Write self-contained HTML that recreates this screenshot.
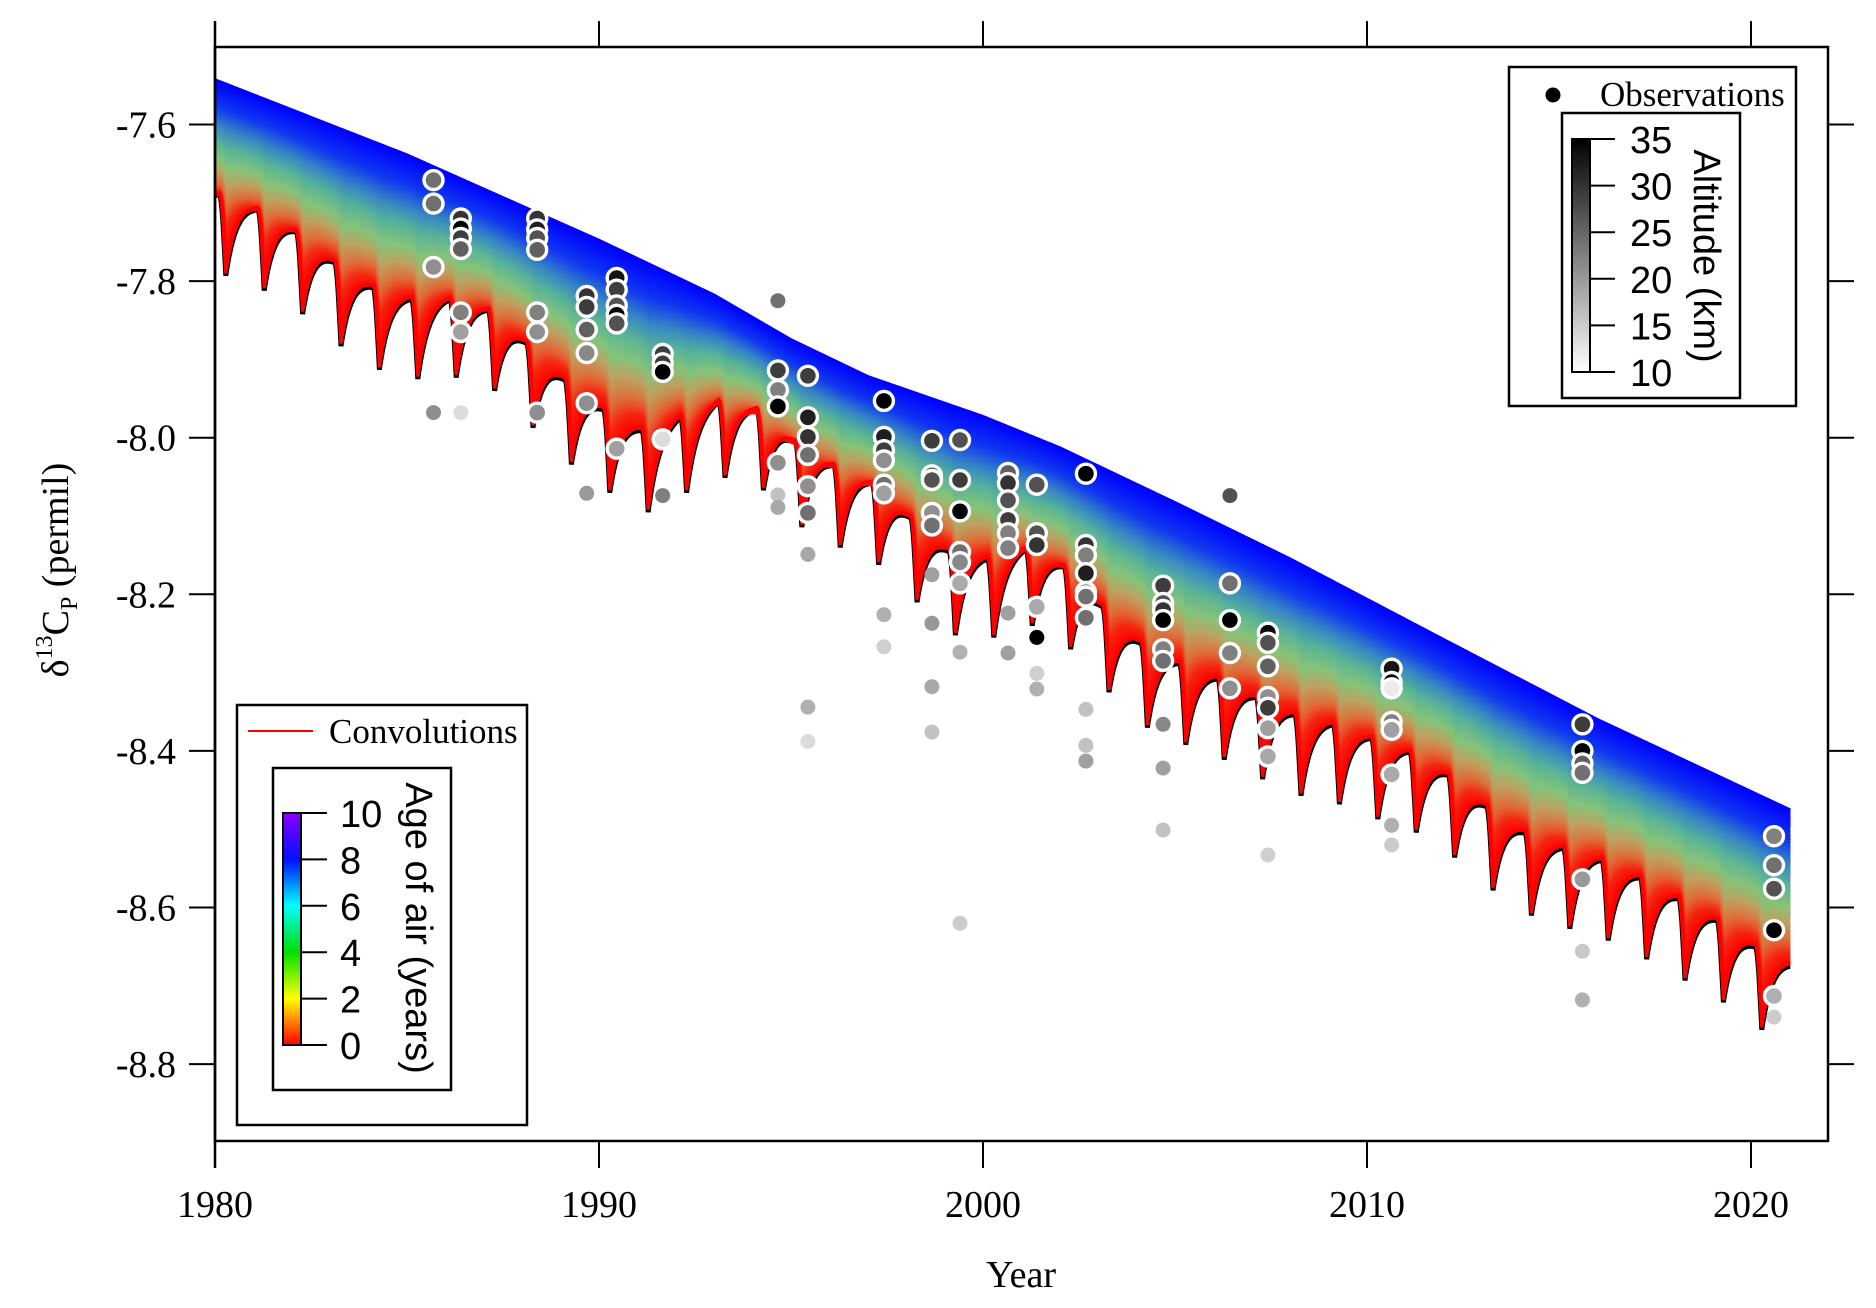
<!DOCTYPE html>
<html><head><meta charset="utf-8">
<style>
html,body{margin:0;padding:0;background:#fff;}
svg{display:block;}
.tm{font-family:"Liberation Serif",serif;}
.ss{font-family:"Liberation Sans",sans-serif;}
</style></head>
<body>
<svg id="chart" width="1876" height="1308" viewBox="0 0 1876 1308" xmlns="http://www.w3.org/2000/svg">
<defs>
<clipPath id="plotclip"><rect x="215" y="47" width="1613" height="1094"/></clipPath>
<linearGradient id="altgrad" x1="0" y1="0" x2="0" y2="1">
<stop offset="0" stop-color="#000"/><stop offset="1" stop-color="#fff"/></linearGradient>
<linearGradient id="agegrad" x1="0" y1="0" x2="0" y2="1">
<stop offset="0" stop-color="#8a00ff"/><stop offset="0.2" stop-color="#0010ff"/><stop offset="0.4" stop-color="#00ffff"/><stop offset="0.6" stop-color="#00e000"/><stop offset="0.8" stop-color="#ffff00"/><stop offset="0.9" stop-color="#ff8000"/><stop offset="1" stop-color="#ff0000"/></linearGradient>
</defs>
<g id="band" clip-path="url(#plotclip)"></g>
<g id="obs" clip-path="url(#plotclip)"></g>
<g id="axes"></g>

<g>
<rect x="1509" y="67" width="287" height="339" fill="#fff" stroke="#000" stroke-width="2.5"/>
<circle cx="1553" cy="95" r="7.5" fill="#000"/>
<text class="tm" x="1600" y="106" font-size="35">Observations</text>
<rect x="1562" y="113" width="178" height="285" fill="none" stroke="#000" stroke-width="2.5"/>
<rect x="1572" y="139" width="18" height="233" fill="url(#altgrad)" stroke="#000" stroke-width="2"/>
<g id="altticks"></g>
<text class="ss" font-size="38" transform="translate(1694,256) rotate(90)" text-anchor="middle">Altitude (km)</text>
</g>

<g>
<rect x="237" y="705" width="290" height="420" fill="#fff" stroke="#000" stroke-width="2.5"/>
<line x1="248" y1="731" x2="313" y2="731" stroke="#ff0000" stroke-width="2"/>
<text class="tm" x="329" y="743" font-size="35">Convolutions</text>
<rect x="273" y="768" width="178" height="322" fill="none" stroke="#000" stroke-width="2.5"/>
<rect x="283" y="813" width="18" height="232" fill="url(#agegrad)" stroke="#000" stroke-width="2"/>
<g id="ageticks"></g>
<text class="ss" font-size="38" transform="translate(406,928) rotate(90)" text-anchor="middle">Age of air (years)</text>
</g>

<text class="tm" x="1021" y="1287" font-size="38" text-anchor="middle">Year</text>
<text class="tm" font-size="38" text-anchor="middle" transform="translate(68,570) rotate(-90)">δ<tspan font-size="24" dy="-16">13</tspan><tspan dy="16">C</tspan><tspan font-size="24" dy="9">P</tspan><tspan dy="-9"> (permil)</tspan></text>
</svg>
<script>
// ---- data ----
const xTicks = [1980, 1990, 2000, 2010, 2020];
const yTicks = [-7.6, -7.8, -8.0, -8.2, -8.4, -8.6, -8.8];
const yTickLabels = ["-7.6", "-7.8", "-8.0", "-8.2", "-8.4", "-8.6", "-8.8"];
const altTicks = [35, 30, 25, 20, 15, 10];
const ageTicks = [10, 8, 6, 4, 2, 0];
const upperYears = [1980, 1985, 1990, 1993, 1995, 1997, 2000, 2002, 2005, 2008, 2012, 2016, 2021];
const upperVals = [-7.543, -7.639, -7.748, -7.818, -7.875, -7.922, -7.973, -8.013, -8.083, -8.155, -8.258, -8.36, -8.475];
const troughYears = [1979.28,1980.28,1981.28,1982.28,1983.28,1984.28,1985.28,1986.28,1987.28,1988.28,1989.28,1990.28,1991.28,1992.28,1993.28,1994.28,1995.28,1996.28,1997.28,1998.28,1999.28,2000.28,2001.28,2002.28,2003.28,2004.28,2005.28,2006.28,2007.28,2008.28,2009.28,2010.28,2011.28,2012.28,2013.28,2014.28,2015.28,2016.28,2017.28,2018.28,2019.28,2020.28,2021.28];
const troughVals = [-7.77,-7.79,-7.809,-7.839,-7.88,-7.91,-7.922,-7.92,-7.937,-7.984,-8.031,-8.067,-8.092,-8.067,-8.048,-8.064,-8.111,-8.137,-8.159,-8.207,-8.249,-8.252,-8.237,-8.267,-8.322,-8.367,-8.389,-8.408,-8.433,-8.454,-8.465,-8.484,-8.501,-8.533,-8.575,-8.607,-8.624,-8.639,-8.663,-8.690,-8.718,-8.753,-8.775];
const seasonalAmp = [0.1];
const obsYear = [1985.69,1985.69,1985.69,1985.69,
1986.4,1986.4,1986.4,1986.4,1986.4,1986.4,1986.4,
1988.39,1988.39,1988.39,1988.39,1988.39,1988.39,1988.39,
1989.68,1989.68,1989.68,1989.68,1989.68,1989.68,
1990.46,1990.46,1990.46,1990.46,1990.46,1990.46,
1991.66,1991.66,1991.66,1991.66,1991.66,
1994.66,1994.66,1994.66,1994.66,1994.66,1994.66,1994.66,
1995.44,1995.44,1995.44,1995.44,1995.44,1995.44,1995.44,1995.44,1995.44,
1997.42,1997.42,1997.42,1997.42,1997.42,1997.42,1997.42,1997.42,
1998.67,1998.67,1998.67,1998.67,1998.67,1998.67,1998.67,1998.67,1998.67,
1999.4,1999.4,1999.4,1999.4,1999.4,1999.4,1999.4,1999.4,
2000.65,2000.65,2000.65,2000.65,2000.65,2000.65,2000.65,2000.65,
2001.4,2001.4,2001.4,2001.4,2001.4,2001.4,2001.4,
2002.68,2002.68,2002.68,2002.68,2002.68,2002.68,2002.68,2002.68,2002.68,2002.68,
2004.69,2004.69,2004.69,2004.69,2004.69,2004.69,2004.69,2004.69,2004.69,
2006.43,2006.43,2006.43,2006.43,2006.43,
2007.42,2007.42,2007.42,2007.42,2007.42,2007.42,2007.42,2007.42,
2010.64,2010.64,2010.64,2010.64,2010.64,2010.64,2010.64,2010.64,
2015.61,2015.61,2015.61,2015.61,2015.61,2015.61,2015.61,
2020.6,2020.6,2020.6,2020.6,2020.6,2020.6];
const obsValue = [-7.671,-7.701,-7.782,-7.968,
-7.720,-7.733,-7.745,-7.759,-7.840,-7.865,-7.968,
-7.720,-7.734,-7.745,-7.760,-7.840,-7.865,-7.968,
-7.819,-7.833,-7.862,-7.892,-7.956,-8.071,
-7.796,-7.811,-7.831,-7.843,-7.854,-8.014,
-7.893,-7.905,-7.916,-8.002,-8.074,
-7.825,-7.914,-7.939,-7.960,-8.032,-8.073,-8.089,
-7.921,-7.974,-7.999,-8.022,-8.062,-8.096,-8.149,-8.344,-8.388,
-7.953,-7.999,-8.016,-8.029,-8.060,-8.071,-8.226,-8.267,
-8.004,-8.048,-8.054,-8.096,-8.112,-8.175,-8.237,-8.318,-8.376,
-8.003,-8.054,-8.094,-8.146,-8.159,-8.186,-8.274,-8.620,
-8.045,-8.058,-8.080,-8.105,-8.122,-8.141,-8.224,-8.275,
-8.060,-8.122,-8.137,-8.216,-8.255,-8.301,-8.321,
-8.046,-8.137,-8.150,-8.173,-8.197,-8.203,-8.230,-8.347,-8.393,-8.413,
-8.189,-8.211,-8.220,-8.233,-8.270,-8.285,-8.366,-8.422,-8.501,
-8.074,-8.186,-8.233,-8.275,-8.320,
-8.249,-8.262,-8.292,-8.331,-8.345,-8.371,-8.407,-8.533,
-8.295,-8.312,-8.320,-8.363,-8.373,-8.430,-8.495,-8.520,
-8.366,-8.400,-8.416,-8.428,-8.564,-8.656,-8.718,
-8.509,-8.546,-8.576,-8.629,-8.713,-8.740];
const obsAlt = [24,24,21,21,
30,35,29,25.6,22.5,19.3,13.4,
30,32,27,25.6,22.5,21,21,
30,29,25.6,21.7,21,20,
33,29,27,35,27,19.3,
29,29,35,13.4,22.5,
24,29,22.5,35,21,16,18.5,
29,32,30,24,21,24,18.5,17.7,13.4,
35,32,29,21,24,19.3,17.7,14.6,
29,27,27,21,24,19.3,20,18.5,16,
27,29,35,24,21.7,18.3,17.7,15,
25.6,30,27,29,22.5,22.5,19.3,19.3,
27,27,30,18.3,35,14.6,17.7,
35,30,22.5,32,21,24,24,16,16,19.3,
29,27,30,35,22.5,24,21.7,19.3,16,
27,24,35,22.5,21,
34,27,25.6,21,29,19.3,18.5,14.6,
33,35,12,22.5,19.3,18.3,17.7,15,
29,35,25.6,24,20,15.4,17.7,
22.5,24,27,35,17.7,15];
const obsRing = [1,1,1,0,
1,1,1,1,1,1,0,
1,1,1,1,1,1,1,
1,1,1,1,1,0,
1,1,1,1,1,1,
1,1,1,1,0,
0,1,1,1,1,0,0,
1,1,1,1,1,1,0,0,0,
1,1,1,1,1,1,0,0,
1,1,1,1,1,0,0,0,0,
1,1,1,1,1,1,0,0,
1,1,1,1,1,1,0,0,
1,1,1,1,0,0,0,
1,1,1,1,1,1,1,0,0,0,
1,1,1,1,1,1,0,0,0,
0,1,1,1,1,
1,1,1,1,1,1,1,0,
1,1,1,1,1,1,0,0,
1,1,1,1,1,0,0,
1,1,1,1,1,0];

const X = y => 215 + (y - 1980) * 38.4;
const Y = v => 124.5 + (-7.6 - v) * 783;
const NS = "http://www.w3.org/2000/svg";
function mk(tag, attrs, parent){const e=document.createElementNS(NS,tag);for(const k in attrs)e.setAttribute(k,attrs[k]);parent.appendChild(e);return e;}
function interp(xs, vs, t){
  if(t<=xs[0]) return vs[0]+(vs[1]-vs[0])*(t-xs[0])/(xs[1]-xs[0]);
  for(let i=0;i<xs.length-1;i++){ if(t<=xs[i+1]) return vs[i]+(vs[i+1]-vs[i])*(t-xs[i])/(xs[i+1]-xs[i]); }
  const n=xs.length-1; return vs[n]+(vs[n]-vs[n-1])*(t-xs[n])/(xs[n]-xs[n-1]);
}
function seasonal(t){
  let k=0; while(k<troughYears.length-2 && t>=troughYears[k+1]) k++;
  const p=(t-troughYears[k])/(troughYears[k+1]-troughYears[k]);
  const base=troughVals[k]+(troughVals[k+1]-troughVals[k])*p;
  let s;
  const P=0.84;
  if(p<P) s=(1-Math.exp(-p/0.3))/(1-Math.exp(-P/0.3));
  else { const q=(p-P)/(1-P); s=Math.cos(q*Math.PI/2); }
  return {base, s};
}
const stops=[[0,[255,0,0]],[0.2,[245,35,15]],[0.32,[225,105,55]],[0.44,[190,160,95]],[0.54,[135,195,120]],[0.65,[90,180,150]],[0.75,[55,135,195]],[0.86,[15,55,240]],[1,[0,0,255]]];
function col(f){for(let i=0;i<stops.length-1;i++){if(f<=stops[i+1][0]){const a=stops[i],b=stops[i+1],u=(f-a[0])/(b[0]-a[0]);return 'rgb('+a[1].map((c,j)=>Math.round(c+(b[1][j]-c)*u)).join(',')+')';}}return 'rgb(0,0,255)';}
const band=document.getElementById('band');
const tEnd=2021.02, dt=0.02;
const ts=[]; for(let t=1980;t<=tEnd+1e-9;t+=dt) ts.push(t);
const pre=ts.map(t=>{const s=seasonal(t);return {T:s.base,s:s.s,U:interp(upperYears,upperVals,t)};});
function curvePath(f){
  let d='';
  pre.forEach((q,i)=>{
    const v=q.T+(q.U-q.T)*f+seasonalAmp[0]*q.s*Math.pow(1-f,3);
    d+=(i?'L':'M')+X(ts[i]).toFixed(1)+' '+Y(v).toFixed(1);
  });
  return d;
}
const blk=mk('path',{d:curvePath(0),fill:'none',stroke:'#000','stroke-width':5,transform:'translate(0,2.5)'},band);


const N=120;
for(let i=N;i>=0;i--){
  const f=i/N;
  const p=mk('path',{d:curvePath(f),fill:'none',stroke:col(f),'stroke-width':3.2},band);
  
  
}
const obs=document.getElementById('obs');
function gray(a){const g=Math.round(255*(1-(Math.min(35,Math.max(10,a))-10)/25));return 'rgb('+g+','+g+','+g+')';}
[0,1].forEach(pass=>{
  for(let i=0;i<obsYear.length;i++){
    if(obsRing[i]!==pass) continue;
    const c=mk('circle',{cx:X(obsYear[i]).toFixed(1),cy:Y(obsValue[i]).toFixed(1),r:pass?9.5:7.5,fill:gray(obsAlt[i])},obs);
    if(pass){c.setAttribute('stroke','#fff');c.setAttribute('stroke-width','3.4');}
    
    
  }
});
const ax=document.getElementById('axes');
const fr=mk('rect',{x:215,y:47,width:1613,height:1094,fill:'none',stroke:'#000','stroke-width':2.5},ax);


mk('line',{x1:215,y1:21,x2:215,y2:1168,stroke:'#000','stroke-width':2.5},ax);
xTicks.forEach(yr=>{
  const x=X(yr);
  mk('line',{x1:x,y1:21,x2:x,y2:47,stroke:'#000','stroke-width':2},ax);
  mk('line',{x1:x,y1:1141,x2:x,y2:1168,stroke:'#000','stroke-width':2},ax);
  const t=mk('text',{x:x,y:1217,'font-size':38,'text-anchor':'middle',class:'tm'},ax);
  t.textContent=String(yr);
  
  
});
yTicks.forEach((v,i)=>{
  const y=Y(v);
  mk('line',{x1:189,y1:y,x2:215,y2:y,stroke:'#000','stroke-width':2},ax);
  mk('line',{x1:1828,y1:y,x2:1854,y2:y,stroke:'#000','stroke-width':2},ax);
  const t=mk('text',{x:176,y:y+13,'font-size':38,'text-anchor':'end',class:'tm'},ax);
  t.textContent=yTickLabels[i];
  
  
});
const at=document.getElementById('altticks');
altTicks.forEach((a,i)=>{
  const y=139+i*46.6;
  mk('line',{x1:1590,y1:y,x2:1615,y2:y,stroke:'#000','stroke-width':2},at);
  const t=mk('text',{x:1630,y:y+14,'font-size':38,class:'ss'},at);
  t.textContent=String(a);
  
  
});
const gt=document.getElementById('ageticks');
ageTicks.forEach((a,i)=>{
  const y=813+i*46.4;
  mk('line',{x1:301,y1:y,x2:327,y2:y,stroke:'#000','stroke-width':2},gt);
  const t=mk('text',{x:340,y:y+14,'font-size':38,class:'ss'},gt);
  t.textContent=String(a);
  
  
});
</script>
</body></html>
